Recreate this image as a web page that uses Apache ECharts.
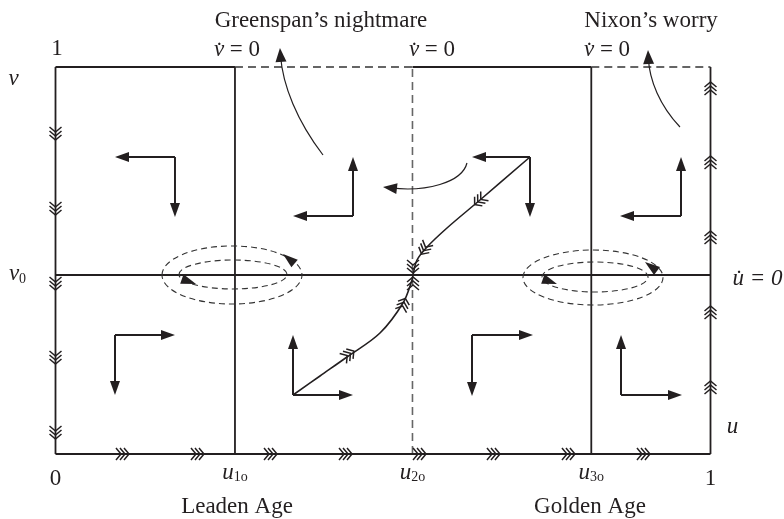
<!DOCTYPE html>
<html><head><meta charset="utf-8">
<script src="https://cdn.jsdelivr.net/npm/echarts@6/dist/echarts.min.js"></script>
<style>html,body{margin:0;padding:0;background:#fff}#c{width:784px;height:519px}</style>
</head><body><div id="c"></div>
<script>
// ---- data (in phase-plane units: u horizontal 0..1, v vertical 0..1) ----
const uTicks = [0, 0.274, 0.545, 0.818, 1];
const uTickNames = ['0', '1o', '2o', '3o', '1'];
const v0 = 0.4625;

const saddlePath = [
  [0.3626, 0.1525], [0.4038, 0.2016], [0.4450, 0.2506], [0.4954, 0.3127],
  [0.5305, 0.3902], [0.5443, 0.4496], [0.5458, 0.4625], [0.5519, 0.5013],
  [0.5672, 0.5349], [0.5977, 0.5840], [0.6481, 0.6563], [0.7244, 0.7674]
];

const solidSegments = [
  [0, 0, 1, 0], [0, 0, 0, 1], [1, 0, 1, 1],
  [0.274, 0, 0.274, 1], [0.818, 0, 0.818, 1],
  [0, v0, 1, v0],
  [0, 1, 0.274, 1], [0.545, 1, 0.818, 1]
];
const dashedSegments = [[0.274, 1, 0.545, 1], [0.818, 1, 1, 1]];
const nullclineDashed = [[0.545, 0, 0.545, 1]];

// [fromU, fromV, tipU, tipV]
const flowArrows = [
  [0.1824, 0.7674, 0.0908, 0.7674], [0.1824, 0.7674, 0.1824, 0.6124],
  [0.0908, 0.3075, 0.1824, 0.3075], [0.0908, 0.3075, 0.0908, 0.1525],
  [0.4542, 0.6150, 0.4542, 0.7674], [0.4542, 0.6150, 0.3626, 0.6150],
  [0.3626, 0.1525, 0.3626, 0.3075], [0.3626, 0.1525, 0.4542, 0.1525],
  [0.7244, 0.7674, 0.6359, 0.7674], [0.7244, 0.7674, 0.7244, 0.6124],
  [0.6359, 0.3075, 0.7290, 0.3075], [0.6359, 0.3075, 0.6359, 0.1499],
  [0.9550, 0.6150, 0.9550, 0.7674], [0.9550, 0.6150, 0.8618, 0.6150],
  [0.8634, 0.1525, 0.8634, 0.3075], [0.8634, 0.1525, 0.9565, 0.1525]
];

// chevrons: [u, v, towardU, towardV]
const leftEdgeV = [0.8295, 0.6357, 0.4419, 0.2506, 0.0568];
const rightEdgeV = [0.9432, 0.7519, 0.5581, 0.3643, 0.1705];
const bottomEdgeU = [0.1015, 0.2160, 0.3275, 0.4420, 0.5550, 0.6679, 0.7824, 0.8969];
const pathChevrons = [
  [0.4466, 0.2558, 0.4954, 0.3127],
  [0.5305, 0.3850, 0.5443, 0.4496],
  [0.5458, 0.4393, 0.5458, 0.4625],
  [0.5458, 0.4858, 0.5458, 0.4625],
  [0.5641, 0.5323, 0.5458, 0.4755],
  [0.6481, 0.6563, 0.5977, 0.5840]
];

// dashed cycles: [uMin, vMin, uMax, vMax]
const cycles = [
  [0.1626, 0.3876, 0.3763, 0.5375], [0.1885, 0.4264, 0.3534, 0.5013],
  [0.7137, 0.3850, 0.9275, 0.5271], [0.7427, 0.4186, 0.9046, 0.4961]
];
const cycleArrows = [
  [0.1931, 0.4522, 0.2145, 0.4393], [0.3641, 0.4935, 0.3473, 0.5168],
  [0.7443, 0.4522, 0.7656, 0.4393], [0.9183, 0.4729, 0.9000, 0.4961]
];

// curved arrows (cubic): [u0,v0, c1u,c1v, c2u,c2v, tipU,tipV]
const curvedArrows = [
  [0.4084, 0.7726, 0.3687, 0.8605, 0.3469, 0.9527, 0.3427, 1.0491],
  [0.9534, 0.8450, 0.9229, 0.8992, 0.9066, 0.9656, 0.9046, 1.0439],
  [0.6282, 0.7519, 0.6206, 0.7003, 0.5641, 0.6770, 0.5000, 0.6899]
];

// text labels: [u, v, text]
const labels = [
  [0.4053, 1.1178, 'Greenspan\u2019s nightmare'],
  [0.9092, 1.1178, 'Nixon\u2019s worry'],
  [0.2771, 1.0429, '{i|v\u0307}{r| = 0}'],
  [0.5748, 1.0429, '{i|v\u0307}{r| = 0}'],
  [0.8420, 1.0429, '{i|v\u0307}{r| = 0}'],
  [0.0023, 1.0455, '1'],
  [-0.0640, 0.9680, '{i|v}'],
  [-0.0580, 0.4641, '{i|v}{s|0}'],
  [1.0718, 0.4512, '{i|u\u0307 = 0}'],
  [1.0336, 0.0687, '{i|u}'],
  [0.2771, -0.1380, 'Leaden Age'],
  [0.8160, -0.1380, 'Golden Age']
];

// ---- drawing ----
const INK = '#231f20';
const FONT = 'Liberation Serif';
const richStyles = {
  i: {fontSize: 23, fontFamily: FONT, fontStyle: 'italic', fill: INK, color: INK, lineHeight: 23},
  r: {fontSize: 23, fontFamily: FONT, fill: INK, color: INK, lineHeight: 23},
  n: {fontSize: 23, fontFamily: FONT, fill: INK, color: INK, lineHeight: 35},
  s: {fontSize: 14, fontFamily: FONT, fill: INK, color: INK, lineHeight: 8, verticalAlign: 'bottom'}
};

function unit(a, b) {
  const dx = b[0] - a[0], dy = b[1] - a[1];
  const L = Math.hypot(dx, dy) || 1;
  return [dx / L, dy / L];
}
function head(tip, dir, len, w) {
  const bx = tip[0] - dir[0] * len, by = tip[1] - dir[1] * len;
  return [[tip[0], tip[1]], [bx - dir[1] * w / 2, by + dir[0] * w / 2], [bx + dir[1] * w / 2, by - dir[0] * w / 2]];
}
function cs(arr, render, z) {
  return {
    type: 'custom', coordinateSystem: 'cartesian2d', clip: false, silent: true, z: z,
    data: arr.map(d => [d[0], d[1]]),
    renderItem: (params, api) => render(arr[params.dataIndex], api)
  };
}
function segRender(style) {
  return (d, api) => {
    const a = api.coord([d[0], d[1]]), b = api.coord([d[2], d[3]]);
    return {type: 'line', shape: {x1: a[0], y1: a[1], x2: b[0], y2: b[1]}, style: style};
  };
}
function chevronRender(d, api) {
  const p = api.coord([d[0], d[1]]), q = api.coord([d[2], d[3]]);
  const u = unit(p, q), n = [-u[1], u[0]];
  const children = [-1, 0, 1].map(k => {
    const off = k * 4 + 3;
    const ax = p[0] + u[0] * off, ay = p[1] + u[1] * off;
    return {
      type: 'polyline',
      shape: {points: [[ax - u[0] * 5 + n[0] * 6, ay - u[1] * 5 + n[1] * 6], [ax, ay], [ax - u[0] * 5 - n[0] * 6, ay - u[1] * 5 - n[1] * 6]]},
      style: {stroke: INK, lineWidth: 1.5, fill: null}
    };
  });
  return {type: 'group', children: children};
}

const edgeChevrons = []
  .concat(leftEdgeV.map(v => [0, v, 0, v - 0.05]))
  .concat(rightEdgeV.map(v => [1, v, 1, v + 0.05]))
  .concat(bottomEdgeU.map(u => [u, 0, u + 0.05, 0]));

const chart = echarts.init(document.getElementById('c'), null, {renderer: 'canvas'});
chart.setOption({
  animation: false,
  backgroundColor: '#fff',
  grid: {left: 55.5, right: 73.5, top: 67, bottom: 65},
  xAxis: {
    type: 'value', min: 0, max: 1,
    axisLine: {show: false}, axisTick: {show: false}, splitLine: {show: false},
    axisLabel: {
      customValues: uTicks, margin: 7, color: INK,
      formatter: v => {
        const name = uTickNames[uTicks.indexOf(v)];
        return (name === '0' || name === '1') ? '{n|' + name + '}' : '{i|u}{s|' + name + '}';
      },
      rich: richStyles
    }
  },
  yAxis: {
    type: 'value', min: 0, max: 1,
    axisLine: {show: false}, axisTick: {show: false}, splitLine: {show: false}, axisLabel: {show: false}
  },
  series: [
    cs(nullclineDashed, segRender({stroke: '#666', lineWidth: 1.6, lineDash: [8, 5]}), 1),
    cs(solidSegments, segRender({stroke: INK, lineWidth: 1.8}), 2),
    cs(dashedSegments, segRender({stroke: '#333', lineWidth: 1.5, lineDash: [8, 5]}), 2),
    {
      type: 'line', data: saddlePath, smooth: 0.35, showSymbol: false, symbol: 'none',
      lineStyle: {color: INK, width: 1.6}, z: 3, silent: true
    },
    cs(flowArrows, (d, api) => {
      const a = api.coord([d[0], d[1]]), b = api.coord([d[2], d[3]]);
      const u = unit(a, b);
      return {type: 'group', children: [
        {type: 'line', shape: {x1: a[0], y1: a[1], x2: b[0] - u[0] * 10, y2: b[1] - u[1] * 10}, style: {stroke: INK, lineWidth: 2}},
        {type: 'polygon', shape: {points: head(b, u, 14, 10)}, style: {fill: INK}}
      ]};
    }, 4),
    cs(edgeChevrons, chevronRender, 4),
    cs(pathChevrons, chevronRender, 4),
    cs(cycles, (d, api) => {
      const a = api.coord([d[0], d[3]]), b = api.coord([d[2], d[1]]);
      return {type: 'ellipse', shape: {cx: (a[0] + b[0]) / 2, cy: (a[1] + b[1]) / 2, rx: (b[0] - a[0]) / 2, ry: (b[1] - a[1]) / 2},
        style: {stroke: '#333', fill: null, lineWidth: 1.1, lineDash: [6, 4]}};
    }, 3),
    cs(cycleArrows, (d, api) => {
      const a = api.coord([d[0], d[1]]), b = api.coord([d[2], d[3]]);
      return {type: 'polygon', shape: {points: head(b, unit(a, b), 15, 10)}, style: {fill: INK}};
    }, 4),
    cs(curvedArrows, (d, api) => {
      const p0 = api.coord([d[0], d[1]]), c1 = api.coord([d[2], d[3]]), c2 = api.coord([d[4], d[5]]), p3 = api.coord([d[6], d[7]]);
      const u = unit(c2, p3);
      return {type: 'group', children: [
        {type: 'bezierCurve', shape: {x1: p0[0], y1: p0[1], cpx1: c1[0], cpy1: c1[1], cpx2: c2[0], cpy2: c2[1], x2: p3[0] - u[0] * 8, y2: p3[1] - u[1] * 8},
          style: {stroke: INK, lineWidth: 1.2, fill: null}},
        {type: 'polygon', shape: {points: head(p3, u, 14, 11)}, style: {fill: INK}}
      ]};
    }, 4),
    cs(labels, (d, api) => {
      const p = api.coord([d[0], d[1]]);
      return {type: 'text', x: p[0], y: p[1], style: {
        text: d[2], fontSize: 23, fontFamily: FONT, fill: INK, align: 'center', verticalAlign: 'middle', rich: richStyles
      }};
    }, 5)
  ]
});
</script>
</body></html>
